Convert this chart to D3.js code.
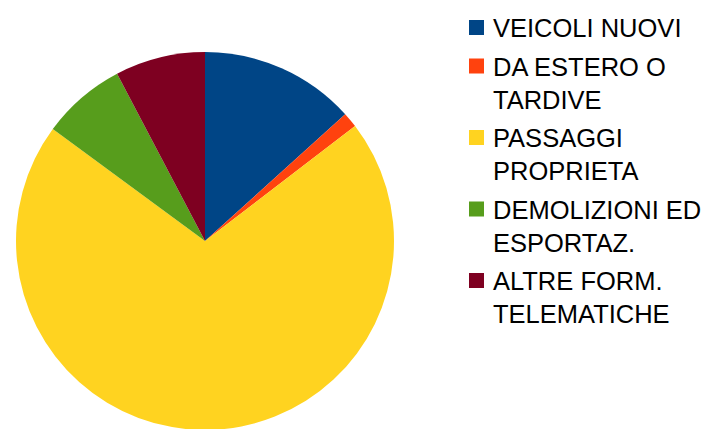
<!DOCTYPE html>
<html>
<head>
<meta charset="utf-8">
<script src="https://cdn.jsdelivr.net/npm/d3@7"></script>
<style>
  body { margin: 0; background: #fff; }
  svg { display: block; }
  text { font-family: "Liberation Sans", Arial, sans-serif; }
</style>
</head>
<body>
<div id="chart"></div>
<script>
var width = 701;
var height = 429;

// values (percent of the pie)
var categories = ["VEICOLI NUOVI", "DA ESTERO O TARDIVE", "PASSAGGI PROPRIETA", "DEMOLIZIONI ED ESPORTAZ.", "ALTRE FORM. TELEMATICHE"];
var legendLines = [["VEICOLI NUOVI"], ["DA ESTERO O", "TARDIVE"], ["PASSAGGI", "PROPRIETA"], ["DEMOLIZIONI ED", "ESPORTAZ."], ["ALTRE FORM.", "TELEMATICHE"]];
var values = [13.3, 1.3, 70.5, 7.2, 7.7];
var colors = ["#004586", "#ff420e", "#ffd320", "#579d1c", "#7e0021"];

var svg = d3.select("#chart").append("svg")
    .attr("width", width)
    .attr("height", height);

var cx = 205, cy = 241, radius = 189;

var pie = d3.pie().sort(null).value(function (d) { return d; });
var arc = d3.arc().innerRadius(0).outerRadius(radius);
var color = d3.scaleOrdinal().domain(categories).range(colors);

svg.append("g")
    .attr("transform", "translate(" + cx + "," + cy + ")")
    .selectAll("path")
    .data(pie(values))
    .enter().append("path")
    .attr("d", arc)
    .attr("fill", function (d, i) { return color(categories[i]); });

// legend
var lineH = 33, gap = 5.5;
var legend = svg.append("g").attr("transform", "translate(469,0)");
var y = 37;
legendLines.forEach(function (lines, i) {
    var g = legend.append("g");
    g.append("rect")
        .attr("x", 0)
        .attr("y", y - 17)
        .attr("width", 15)
        .attr("height", 15)
        .attr("fill", color(categories[i]));
    lines.forEach(function (t, j) {
        g.append("text")
            .attr("x", 24)
            .attr("y", y + j * lineH)
            .attr("font-size", 25.5)
            .attr("fill", "#000")
            .text(t);
    });
    y += lines.length * lineH + gap;
});
</script>
</body>
</html>
